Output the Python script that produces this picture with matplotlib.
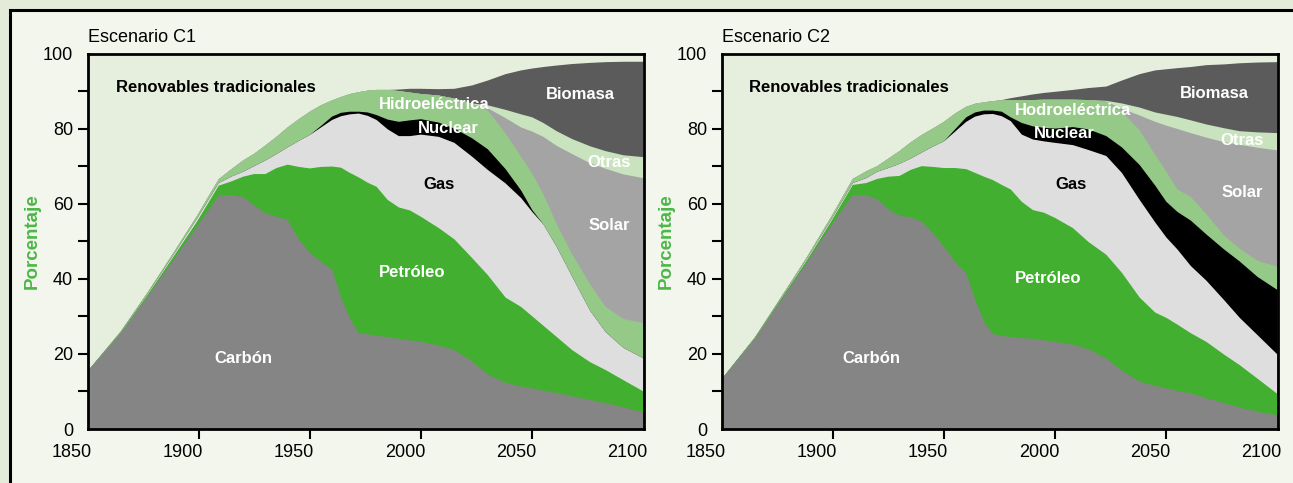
import matplotlib
matplotlib.use('Agg')
import matplotlib.pyplot as plt
from matplotlib.patches import Rectangle
from matplotlib.transforms import ScaledTranslation

plt.rcParams['font.family'] = ['Liberation Sans', 'DejaVu Sans']

years = [1850, 1865, 1877, 1888, 1899, 1909, 1915, 1920, 1925, 1930, 1935, 1940, 1945, 1950, 1955,
         1960, 1964, 1968, 1972, 1976, 1980, 1985, 1990, 1995, 2000, 2008, 2015, 2023, 2030, 2038,
         2045, 2050, 2055, 2061, 2068, 2076, 2083, 2091, 2100]

# upper edge of each stacked layer (cumulative %), scenario C1
c1_carbon = [15.3, 25.5, 35.2, 44.5, 53.7, 62.2, 62.3, 61.8, 59.5, 57.5, 56.5, 55.7, 50.5, 47.0, 44.5,
             42.5, 35.0, 29.5, 25.5, 25.2, 24.8, 24.5, 24.0, 23.6, 23.2, 22.2, 21.0, 18.0, 14.5, 12.3,
             11.3, 10.8, 10.2, 9.6, 8.7, 7.7, 6.9, 5.8, 4.4]
c1_oil = [15.3, 25.7, 35.7, 45.3, 55.0, 64.8, 66.0, 67.2, 67.9, 67.9, 69.5, 70.4, 69.8, 69.4, 69.8,
          69.9, 69.6, 68.2, 67.0, 65.6, 64.5, 61.0, 59.0, 58.2, 56.5, 53.5, 50.5, 45.5, 41.0, 35.0,
          32.5, 30.0, 27.5, 24.5, 21.0, 17.8, 15.7, 13.0, 10.0]
c1_gas = [15.3, 25.8, 36.0, 45.8, 55.8, 65.5, 67.3, 68.5, 70.0, 71.5, 73.2, 75.0, 76.7, 78.3, 80.3,
          82.3, 83.3, 83.8, 84.0, 83.4, 82.3, 79.8, 78.0, 78.0, 78.4, 77.8, 76.2, 72.5, 69.0, 65.4,
          61.5, 57.8, 54.5, 48.5, 40.5, 31.5, 25.8, 21.6, 18.8]
c1_nuclear = [15.3, 25.8, 36.0, 45.8, 55.8, 65.5, 67.3, 68.5, 70.0, 71.5, 73.2, 75.0, 76.7, 78.3, 80.7,
              83.2, 84.2, 84.5, 84.5, 84.3, 83.6, 82.4, 81.8, 82.2, 82.5, 81.6, 80.0, 77.4, 74.5, 69.2,
              63.5, 58.3, 54.5, 48.5, 40.5, 31.5, 25.8, 21.6, 18.8]
c1_hydro = [15.3, 26.0, 36.3, 46.3, 56.5, 66.5, 69.3, 71.5, 73.3, 75.5, 77.8, 80.3, 82.5, 84.5, 86.2,
            87.5, 88.4, 89.2, 89.7, 90.1, 90.3, 90.3, 90.0, 89.6, 89.2, 88.8, 88.0, 86.5, 84.8, 78.7,
            72.5, 68.0, 62.5, 54.5, 46.5, 38.5, 32.5, 29.3, 28.2]
c1_solar = [15.3, 26.0, 36.3, 46.3, 56.5, 66.5, 69.3, 71.5, 73.3, 75.5, 77.8, 80.3, 82.5, 84.5, 86.2,
            87.5, 88.4, 89.2, 89.7, 90.1, 90.3, 90.3, 90.0, 89.6, 89.2, 88.8, 88.0, 86.5, 85.4, 82.8,
            80.3, 79.2, 77.8, 75.4, 73.2, 70.8, 69.3, 67.8, 66.8]
c1_other = [15.3, 26.0, 36.3, 46.3, 56.5, 66.5, 69.3, 71.5, 73.3, 75.5, 77.8, 80.3, 82.5, 84.5, 86.2,
            87.5, 88.4, 89.2, 89.7, 90.1, 90.3, 90.3, 90.0, 89.6, 89.2, 88.8, 88.0, 86.7, 86.2, 85.0,
            83.8, 83.0, 81.5, 79.3, 77.2, 75.3, 74.0, 72.9, 72.4]
c1_biomass = [15.3, 26.0, 36.3, 46.3, 56.5, 66.5, 69.3, 71.5, 73.3, 75.5, 77.8, 80.3, 82.5, 84.5, 86.2,
              87.5, 88.4, 89.2, 89.7, 90.1, 90.3, 90.3, 90.4, 90.6, 90.6, 90.5, 90.6, 91.5, 92.8, 94.5,
              95.5, 96.0, 96.4, 96.8, 97.2, 97.5, 97.7, 97.8, 97.8]

# scenario C2
c2_carbon = [13.2, 24.0, 34.5, 44.0, 54.0, 62.3, 62.2, 61.2, 58.5, 56.8, 56.4, 55.2, 52.2, 48.5, 44.5,
             41.5, 34.5, 28.5, 25.3, 24.8, 24.5, 24.2, 24.0, 23.6, 23.2, 22.5, 21.2, 18.8, 15.5, 12.6,
             11.5, 10.8, 10.1, 9.5, 8.2, 6.9, 5.7, 4.6, 3.6]
c2_oil = [13.2, 24.2, 34.9, 44.6, 55.0, 65.0, 65.5, 66.6, 67.2, 67.4, 69.0, 70.0, 69.8, 69.5, 69.5,
          69.2, 68.2, 67.2, 66.3, 65.0, 63.8, 60.5, 58.3, 57.6, 56.2, 53.5, 49.8, 46.4, 41.6, 35.0,
          31.0, 29.6, 27.8, 25.5, 23.2, 19.8, 17.0, 13.4, 9.3]
c2_gas = [13.2, 24.3, 35.1, 45.0, 55.5, 65.5, 66.8, 68.5, 69.5, 70.6, 72.0, 73.6, 75.2, 76.6, 79.2,
          81.8, 83.2, 83.8, 83.9, 83.3, 82.0, 78.4, 77.1, 76.6, 76.2, 75.6, 74.3, 72.7, 68.2, 61.0,
          55.0, 51.0, 47.8, 43.4, 39.5, 34.3, 29.6, 25.0, 19.8]
c2_nuclear = [13.2, 24.3, 35.1, 45.0, 55.5, 65.5, 66.8, 68.5, 69.5, 70.6, 72.0, 73.6, 75.2, 76.6, 79.8,
              83.0, 84.3, 84.8, 84.8, 84.5, 83.0, 81.5, 80.6, 80.2, 80.0, 80.4, 79.8, 78.0, 75.0, 70.3,
              64.8, 60.5, 57.8, 55.5, 51.8, 47.8, 44.6, 40.5, 37.0]
c2_hydro = [13.2, 24.4, 35.3, 45.4, 56.2, 66.6, 68.6, 70.0, 72.0, 74.0, 76.3, 78.3, 80.0, 81.8, 84.0,
            85.8, 86.6, 87.0, 87.3, 87.5, 87.6, 87.6, 87.6, 87.7, 87.7, 87.7, 87.6, 87.2, 84.5, 79.5,
            73.0, 68.5, 63.8, 61.8, 57.2, 51.5, 48.0, 44.8, 43.2]
c2_solar = [13.2, 24.4, 35.3, 45.4, 56.2, 66.6, 68.6, 70.0, 72.0, 74.0, 76.3, 78.3, 80.0, 81.8, 84.0,
            85.8, 86.6, 87.0, 87.3, 87.5, 87.6, 87.6, 87.6, 87.7, 87.7, 87.7, 87.6, 87.2, 85.3, 83.5,
            81.8, 80.8, 79.9, 78.8, 77.6, 76.4, 75.7, 74.9, 74.2]
c2_other = [13.2, 24.4, 35.3, 45.4, 56.2, 66.6, 68.6, 70.0, 72.0, 74.0, 76.3, 78.3, 80.0, 81.8, 84.0,
            85.8, 86.6, 87.0, 87.3, 87.5, 87.6, 87.6, 87.6, 87.7, 87.7, 87.7, 87.6, 87.4, 86.7, 85.6,
            84.3, 83.7, 83.1, 82.2, 81.1, 80.1, 79.3, 79.0, 78.8]
c2_biomass = [13.2, 24.4, 35.3, 45.4, 56.2, 66.6, 68.6, 70.0, 72.0, 74.0, 76.3, 78.3, 80.0, 81.8, 84.0,
              85.8, 86.6, 87.0, 87.3, 87.6, 88.1, 88.6, 89.1, 89.5, 89.8, 90.3, 90.8, 91.2, 92.8, 94.5,
              95.5, 95.8, 96.1, 96.4, 96.9, 97.1, 97.4, 97.6, 97.7]

layer_colors = ['#858585', '#42af31', '#dedede', '#000000', '#95c987',
                '#a4a4a4', '#c8e3be', '#5b5b5b']
renov_color = '#e6efdd'

c1_labels = ['Renovables tradicionales', 'Hidroeléctrica', 'Nuclear', 'Gas', 'Biomasa',
             'Otras', 'Solar', 'Petróleo', 'Carbón']
c2_labels = ['Renovables tradicionales', 'Hodroeléctrica', 'Nuclear', 'Gas', 'Biomasa',
             'Otras', 'Solar', 'Petróleo', 'Carbón']
label_colors = ['black', 'white', 'white', 'black', 'white', 'white', 'white', 'white', 'white']
c1_label_pos = [(1862.8, 90.9), (2006, 86.4), (2012.4, 80.0), (2008, 65.2), (2071.8, 89.1),
                (2084.5, 71.1), (2084.7, 54.1), (1996.1, 41.8), (1919.9, 18.8)]
c2_label_pos = [(1862.3, 90.9), (2007.9, 84.9), (2004.3, 78.7), (2007.3, 65.2), (2071.5, 89.3),
                (2084.2, 76.7), (2084.2, 63.1), (1997, 40.0), (1917.4, 18.7)]

fig = plt.figure(figsize=(12.93, 4.83), dpi=100)
fig.patch.set_facecolor('#e4ecd9')
# inner panel with black top/left border
fig.add_artist(Rectangle((9.5 / 1293, -0.5), 2, 0.5 + 473 / 483, transform=fig.transFigure,
                         facecolor='#f3f6ed', edgecolor='black', linewidth=2.2, zorder=-1))


def draw_panel(ax, tops, labels, label_pos, title):
    ax.set_facecolor(renov_color)
    # draw from the top layer down so each fill covers the ones above
    for top, col in reversed(list(zip(tops, layer_colors))):
        ax.fill_between(years, 0, top, facecolor=col, linewidth=0)
    ax.set_xlim(1850, 2100)
    ax.set_ylim(0, 100)

    for (x, y), txt, col in zip(label_pos, labels, label_colors):
        ha = 'left' if txt.startswith('Renovables') else 'center'
        ax.text(x, y, txt, color=col, fontsize=12, fontweight='bold', ha=ha, va='center', zorder=5)

    for sp in ax.spines.values():
        sp.set_linewidth(2.0)
    ax.set_xticks([1850, 1900, 1950, 2000, 2050, 2100])
    ax.set_yticks([0, 20, 40, 60, 80, 100])
    ax.set_yticks([10, 30, 50, 70, 90], minor=True)
    ax.tick_params(axis='both', which='both', direction='out', length=7, width=1.5, labelsize=13)
    ax.tick_params(axis='x', pad=4)
    ax.tick_params(axis='y', pad=3.5)
    xt = ax.xaxis.get_major_ticks()
    xt[0].tick1line.set_visible(False)
    xt[-1].tick1line.set_visible(False)
    yt = ax.yaxis.get_major_ticks()
    yt[0].tick1line.set_visible(False)
    yt[-1].tick1line.set_visible(False)
    for lbl in ax.get_xticklabels():
        lbl.set_horizontalalignment('right')
        lbl.set_transform(lbl.get_transform() + ScaledTranslation(0.04, 0, fig.dpi_scale_trans))

    ax.text(0, 1.043, title, transform=ax.transAxes, fontsize=13, ha='left', va='center')
    ax.text(-0.1, 0.5, 'Porcentaje', transform=ax.transAxes, rotation=90, fontsize=13.5,
            fontweight='bold', color='#4cb748', ha='center', va='center')


ax1 = fig.add_axes([87.5 / 1293, 54 / 483, 556 / 1293, 375.5 / 483])
ax2 = fig.add_axes([721.6 / 1293, 54 / 483, 556 / 1293, 375.5 / 483])

draw_panel(ax1, [c1_carbon, c1_oil, c1_gas, c1_nuclear, c1_hydro, c1_solar, c1_other, c1_biomass],
           c1_labels, c1_label_pos, 'Escenario C1')
draw_panel(ax2, [c2_carbon, c2_oil, c2_gas, c2_nuclear, c2_hydro, c2_solar, c2_other, c2_biomass],
           c2_labels, c2_label_pos, 'Escenario C2')

fig.savefig('out.png', dpi=100, facecolor=fig.get_facecolor())
